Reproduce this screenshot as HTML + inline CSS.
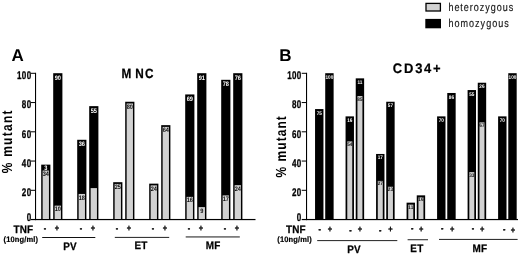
<!DOCTYPE html>
<html lang="en">
<head>
<meta charset="utf-8">
<title>JAK2 mutant fraction with TNF: MNC and CD34+</title>
<style>
html,body{margin:0;padding:0;background:#fff;}
body{width:520px;height:254px;overflow:hidden;}
svg{display:block;font-family:"Liberation Sans", sans-serif;}
text{white-space:pre;}
</style>
</head>
<body>
<svg width="520" height="254" viewBox="0 0 520 254" text-rendering="geometricPrecision">
<rect x="0" y="0" width="520" height="254" fill="#fff"/>
<rect x="426" y="3.4" width="14.4" height="7.6" fill="#d2d2d2" stroke="#000" stroke-width="1.3"/>
<rect x="425.3" y="18.9" width="15.7" height="9.4" fill="#000"/>
<text transform="translate(448.40,10.80) scale(0.8,1)" font-size="11.3" font-weight="normal" fill="#141414" text-anchor="start" stroke="#141414" stroke-width="0.15" stroke-linejoin="round" letter-spacing="1.2">heterozygous</text>
<text transform="translate(448.40,27.30) scale(0.8,1)" font-size="11.3" font-weight="normal" fill="#141414" text-anchor="start" stroke="#141414" stroke-width="0.15" stroke-linejoin="round" letter-spacing="1.27">homozygous</text>
<text transform="translate(11.60,60.60) scale(1.0,1)" font-size="17" font-weight="bold" fill="#000" text-anchor="start">A</text>
<rect x="35.00" y="72.80" width="1.08" height="147.35" fill="#000"/>
<rect x="30.70" y="218.95" width="224.80" height="1.2" fill="#000"/>
<rect x="30.70" y="189.80" width="4.8" height="1" fill="#000"/>
<rect x="30.70" y="160.55" width="4.8" height="1" fill="#000"/>
<rect x="30.70" y="131.30" width="4.8" height="1" fill="#000"/>
<rect x="30.70" y="102.05" width="4.8" height="1" fill="#000"/>
<rect x="30.70" y="72.80" width="4.8" height="1" fill="#000"/>
<text transform="translate(31.40,220.55) scale(0.72,1)" font-size="11.2" font-weight="bold" fill="#000" text-anchor="end" stroke="#000" stroke-width="0.3" stroke-linejoin="round" letter-spacing="0.4">0</text>
<text transform="translate(31.40,196.20) scale(0.72,1)" font-size="11.2" font-weight="bold" fill="#000" text-anchor="end" stroke="#000" stroke-width="0.3" stroke-linejoin="round" letter-spacing="0.4">20</text>
<text transform="translate(31.40,166.95) scale(0.72,1)" font-size="11.2" font-weight="bold" fill="#000" text-anchor="end" stroke="#000" stroke-width="0.3" stroke-linejoin="round" letter-spacing="0.4">40</text>
<text transform="translate(31.40,137.70) scale(0.72,1)" font-size="11.2" font-weight="bold" fill="#000" text-anchor="end" stroke="#000" stroke-width="0.3" stroke-linejoin="round" letter-spacing="0.4">60</text>
<text transform="translate(31.40,108.45) scale(0.72,1)" font-size="11.2" font-weight="bold" fill="#000" text-anchor="end" stroke="#000" stroke-width="0.3" stroke-linejoin="round" letter-spacing="0.4">80</text>
<text transform="translate(31.40,79.20) scale(0.72,1)" font-size="11.2" font-weight="bold" fill="#000" text-anchor="end" stroke="#000" stroke-width="0.3" stroke-linejoin="round" letter-spacing="0.4">100</text>
<text transform="translate(11.90,173.30) rotate(-90) scale(0.82,1)" font-size="14.6" font-weight="bold" fill="#000" text-anchor="start" letter-spacing="1.55">% mutant</text>
<text transform="translate(0.00,78.00) scale(0.88,1)" font-size="13.4" font-weight="bold" fill="#000" text-anchor="start" stroke="#000" stroke-width="0.25" stroke-linejoin="round" x="138.07 153.64 164.77">MNC</text>
<text transform="translate(13.40,233.00) scale(0.92,1)" font-size="10.8" font-weight="bold" fill="#000" text-anchor="start" stroke="#000" stroke-width="0.25" stroke-linejoin="round" letter-spacing="0.25">TNF</text>
<text transform="translate(3.50,241.70) scale(0.95,1)" font-size="7.9" font-weight="bold" fill="#000" text-anchor="start" stroke="#000" stroke-width="0.2" stroke-linejoin="round" letter-spacing="0.15">(10ng/ml)</text>
<rect x="41.20" y="164.64" width="9.20" height="54.91" fill="#000"/>
<rect x="42.65" y="170.55" width="6.30" height="48.45" fill="#d2d2d2"/>
<text transform="translate(45.80,169.87) scale(0.88,1)" font-size="6.4" font-weight="bold" fill="#fff" text-anchor="middle">3</text>
<text transform="translate(45.80,176.11) scale(0.88,1)" font-size="6.4" font-weight="bold" fill="#111" text-anchor="middle">34</text>
<text transform="translate(44.90,230.50) scale(0.8,1)" font-size="9" font-weight="bold" fill="#000" text-anchor="middle" stroke="#000" stroke-width="0.45" stroke-linejoin="round">-</text>
<rect x="53.20" y="73.20" width="9.20" height="146.35" fill="#000"/>
<rect x="54.65" y="205.65" width="6.30" height="13.35" fill="#d2d2d2"/>
<text transform="translate(57.80,79.68) scale(0.88,1)" font-size="6.4" font-weight="bold" fill="#fff" text-anchor="middle">90</text>
<text transform="translate(57.80,211.21) scale(0.88,1)" font-size="6.4" font-weight="bold" fill="#111" text-anchor="middle">10</text>
<text transform="translate(56.90,230.55) scale(0.85,1)" font-size="8.8" font-weight="bold" fill="#000" text-anchor="middle" stroke="#000" stroke-width="0.35" stroke-linejoin="round">+</text>
<rect x="77.20" y="139.78" width="9.20" height="79.77" fill="#000"/>
<rect x="78.65" y="193.95" width="6.30" height="25.05" fill="#d2d2d2"/>
<text transform="translate(81.80,146.26) scale(0.88,1)" font-size="6.4" font-weight="bold" fill="#fff" text-anchor="middle">36</text>
<text transform="translate(81.80,199.51) scale(0.88,1)" font-size="6.4" font-weight="bold" fill="#111" text-anchor="middle">18</text>
<text transform="translate(80.90,230.50) scale(0.8,1)" font-size="9" font-weight="bold" fill="#000" text-anchor="middle" stroke="#000" stroke-width="0.45" stroke-linejoin="round">-</text>
<rect x="89.20" y="106.14" width="9.20" height="113.41" fill="#000"/>
<rect x="90.65" y="188.10" width="6.30" height="30.90" fill="#d2d2d2"/>
<text transform="translate(93.80,112.62) scale(0.88,1)" font-size="6.4" font-weight="bold" fill="#fff" text-anchor="middle">55</text>
<text transform="translate(92.90,230.55) scale(0.85,1)" font-size="8.8" font-weight="bold" fill="#000" text-anchor="middle" stroke="#000" stroke-width="0.35" stroke-linejoin="round">+</text>
<rect x="113.20" y="182.19" width="9.20" height="37.36" fill="#000"/>
<rect x="114.65" y="183.94" width="6.30" height="35.06" fill="#d2d2d2"/>
<text transform="translate(117.80,189.27) scale(0.88,1)" font-size="6.4" font-weight="bold" fill="#111" text-anchor="middle">25</text>
<text transform="translate(116.90,230.50) scale(0.8,1)" font-size="9" font-weight="bold" fill="#000" text-anchor="middle" stroke="#000" stroke-width="0.45" stroke-linejoin="round">-</text>
<rect x="125.20" y="101.75" width="9.20" height="117.80" fill="#000"/>
<rect x="126.65" y="103.50" width="6.30" height="115.50" fill="#d2d2d2"/>
<text transform="translate(129.80,108.83) scale(0.88,1)" font-size="6.4" font-weight="bold" fill="#111" text-anchor="middle">80</text>
<text transform="translate(128.90,230.55) scale(0.85,1)" font-size="8.8" font-weight="bold" fill="#000" text-anchor="middle" stroke="#000" stroke-width="0.35" stroke-linejoin="round">+</text>
<rect x="149.20" y="183.65" width="9.20" height="35.90" fill="#000"/>
<rect x="150.65" y="185.40" width="6.30" height="33.60" fill="#d2d2d2"/>
<text transform="translate(153.80,190.73) scale(0.88,1)" font-size="6.4" font-weight="bold" fill="#111" text-anchor="middle">24</text>
<text transform="translate(152.90,230.50) scale(0.8,1)" font-size="9" font-weight="bold" fill="#000" text-anchor="middle" stroke="#000" stroke-width="0.45" stroke-linejoin="round">-</text>
<rect x="161.20" y="125.15" width="9.20" height="94.40" fill="#000"/>
<rect x="162.65" y="126.90" width="6.30" height="92.10" fill="#d2d2d2"/>
<text transform="translate(165.80,132.23) scale(0.88,1)" font-size="6.4" font-weight="bold" fill="#111" text-anchor="middle">64</text>
<text transform="translate(164.90,230.55) scale(0.85,1)" font-size="8.8" font-weight="bold" fill="#000" text-anchor="middle" stroke="#000" stroke-width="0.35" stroke-linejoin="round">+</text>
<rect x="185.20" y="94.44" width="9.20" height="125.11" fill="#000"/>
<rect x="186.65" y="196.88" width="6.30" height="22.12" fill="#d2d2d2"/>
<text transform="translate(189.80,100.92) scale(0.88,1)" font-size="6.4" font-weight="bold" fill="#fff" text-anchor="middle">69</text>
<text transform="translate(189.80,202.43) scale(0.88,1)" font-size="6.4" font-weight="bold" fill="#111" text-anchor="middle">16</text>
<text transform="translate(188.90,230.50) scale(0.8,1)" font-size="9" font-weight="bold" fill="#000" text-anchor="middle" stroke="#000" stroke-width="0.45" stroke-linejoin="round">-</text>
<rect x="197.20" y="73.20" width="9.20" height="146.35" fill="#000"/>
<rect x="198.65" y="207.11" width="6.30" height="11.89" fill="#d2d2d2"/>
<text transform="translate(201.80,79.68) scale(0.88,1)" font-size="6.4" font-weight="bold" fill="#fff" text-anchor="middle">91</text>
<text transform="translate(201.80,212.67) scale(0.88,1)" font-size="6.4" font-weight="bold" fill="#111" text-anchor="middle">9</text>
<text transform="translate(200.90,230.55) scale(0.85,1)" font-size="8.8" font-weight="bold" fill="#000" text-anchor="middle" stroke="#000" stroke-width="0.35" stroke-linejoin="round">+</text>
<rect x="221.20" y="79.81" width="9.20" height="139.74" fill="#000"/>
<rect x="222.65" y="195.41" width="6.30" height="23.59" fill="#d2d2d2"/>
<text transform="translate(225.80,86.29) scale(0.88,1)" font-size="6.4" font-weight="bold" fill="#fff" text-anchor="middle">78</text>
<text transform="translate(225.80,200.97) scale(0.88,1)" font-size="6.4" font-weight="bold" fill="#111" text-anchor="middle">17</text>
<text transform="translate(224.90,230.50) scale(0.8,1)" font-size="9" font-weight="bold" fill="#000" text-anchor="middle" stroke="#000" stroke-width="0.45" stroke-linejoin="round">-</text>
<rect x="233.20" y="73.20" width="9.20" height="146.35" fill="#000"/>
<rect x="234.65" y="185.18" width="6.30" height="33.82" fill="#d2d2d2"/>
<text transform="translate(237.80,79.68) scale(0.88,1)" font-size="6.4" font-weight="bold" fill="#fff" text-anchor="middle">76</text>
<text transform="translate(237.80,190.73) scale(0.88,1)" font-size="6.4" font-weight="bold" fill="#111" text-anchor="middle">24</text>
<text transform="translate(236.90,230.55) scale(0.85,1)" font-size="8.8" font-weight="bold" fill="#000" text-anchor="middle" stroke="#000" stroke-width="0.35" stroke-linejoin="round">+</text>
<rect x="42.2" y="237" width="53.1" height="1" fill="#111"/>
<rect x="114.8" y="236.9" width="54.4" height="1" fill="#222"/>
<rect x="185.7" y="236.1" width="54.1" height="1.6" fill="#6e6e6e"/>
<text transform="translate(63.20,250.30) scale(0.92,1)" font-size="10.8" font-weight="bold" fill="#000" text-anchor="start" stroke="#000" stroke-width="0.25" stroke-linejoin="round" letter-spacing="0.25">PV</text>
<text transform="translate(134.40,249.30) scale(0.92,1)" font-size="10.8" font-weight="bold" fill="#000" text-anchor="start" stroke="#000" stroke-width="0.25" stroke-linejoin="round" letter-spacing="0.25">ET</text>
<text transform="translate(205.80,248.70) scale(0.92,1)" font-size="10.8" font-weight="bold" fill="#000" text-anchor="start" stroke="#000" stroke-width="0.25" stroke-linejoin="round" letter-spacing="0.25">MF</text>
<text transform="translate(279.20,60.60) scale(1.0,1)" font-size="17" font-weight="bold" fill="#000" text-anchor="start">B</text>
<rect x="306.00" y="72.80" width="1.08" height="147.35" fill="#000"/>
<rect x="301.70" y="218.95" width="216.30" height="1.2" fill="#000"/>
<rect x="301.70" y="189.80" width="4.8" height="1" fill="#000"/>
<rect x="301.70" y="160.55" width="4.8" height="1" fill="#000"/>
<rect x="301.70" y="131.30" width="4.8" height="1" fill="#000"/>
<rect x="301.70" y="102.05" width="4.8" height="1" fill="#000"/>
<rect x="301.70" y="72.80" width="4.8" height="1" fill="#000"/>
<text transform="translate(301.60,220.55) scale(0.72,1)" font-size="11.2" font-weight="bold" fill="#000" text-anchor="end" stroke="#000" stroke-width="0.3" stroke-linejoin="round" letter-spacing="0.4">0</text>
<text transform="translate(301.60,196.20) scale(0.72,1)" font-size="11.2" font-weight="bold" fill="#000" text-anchor="end" stroke="#000" stroke-width="0.3" stroke-linejoin="round" letter-spacing="0.4">20</text>
<text transform="translate(301.60,166.95) scale(0.72,1)" font-size="11.2" font-weight="bold" fill="#000" text-anchor="end" stroke="#000" stroke-width="0.3" stroke-linejoin="round" letter-spacing="0.4">40</text>
<text transform="translate(301.60,137.70) scale(0.72,1)" font-size="11.2" font-weight="bold" fill="#000" text-anchor="end" stroke="#000" stroke-width="0.3" stroke-linejoin="round" letter-spacing="0.4">60</text>
<text transform="translate(301.60,108.45) scale(0.72,1)" font-size="11.2" font-weight="bold" fill="#000" text-anchor="end" stroke="#000" stroke-width="0.3" stroke-linejoin="round" letter-spacing="0.4">80</text>
<text transform="translate(301.60,79.20) scale(0.72,1)" font-size="11.2" font-weight="bold" fill="#000" text-anchor="end" stroke="#000" stroke-width="0.3" stroke-linejoin="round" letter-spacing="0.4">100</text>
<text transform="translate(285.80,177.50) rotate(-90) scale(0.82,1)" font-size="14.6" font-weight="bold" fill="#000" text-anchor="start" letter-spacing="1.3">% mutant</text>
<text transform="translate(0.00,73.30) scale(0.94,1)" font-size="13.8" font-weight="bold" fill="#000" text-anchor="start" stroke="#000" stroke-width="0.2" stroke-linejoin="round" x="417.87 429.79 441.70 451.06 460.64">CD34+</text>
<text transform="translate(285.90,233.00) scale(0.92,1)" font-size="10.8" font-weight="bold" fill="#000" text-anchor="start" stroke="#000" stroke-width="0.25" stroke-linejoin="round" letter-spacing="0.25">TNF</text>
<text transform="translate(277.30,241.70) scale(0.95,1)" font-size="7.9" font-weight="bold" fill="#000" text-anchor="start" stroke="#000" stroke-width="0.2" stroke-linejoin="round" letter-spacing="0.15">(10ng/ml)</text>
<rect x="315.05" y="109.06" width="8.40" height="110.49" fill="#000"/>
<text transform="translate(319.25,114.59) scale(0.9,1)" font-size="5.2" font-weight="bold" fill="#fff" text-anchor="middle">75</text>
<text transform="translate(319.70,232.30) scale(0.8,1)" font-size="9" font-weight="bold" fill="#000" text-anchor="middle" stroke="#000" stroke-width="0.45" stroke-linejoin="round">-</text>
<rect x="325.22" y="73.20" width="8.40" height="146.35" fill="#000"/>
<text transform="translate(329.42,78.72) scale(0.9,1)" font-size="5.2" font-weight="bold" fill="#fff" text-anchor="middle">100</text>
<text transform="translate(330.00,232.20) scale(0.85,1)" font-size="8.8" font-weight="bold" fill="#000" text-anchor="middle" stroke="#000" stroke-width="0.35" stroke-linejoin="round">+</text>
<rect x="345.56" y="116.38" width="8.40" height="103.17" fill="#000"/>
<rect x="347.26" y="141.43" width="5.00" height="77.57" fill="#d2d2d2"/>
<text transform="translate(349.76,121.90) scale(0.9,1)" font-size="5.2" font-weight="bold" fill="#fff" text-anchor="middle">16</text>
<text transform="translate(349.76,145.90) scale(0.9,1)" font-size="5.2" font-weight="bold" fill="#111" text-anchor="middle">54</text>
<text transform="translate(350.40,232.50) scale(0.8,1)" font-size="9" font-weight="bold" fill="#000" text-anchor="middle" stroke="#000" stroke-width="0.45" stroke-linejoin="round">-</text>
<rect x="355.73" y="78.35" width="8.40" height="141.20" fill="#000"/>
<rect x="357.43" y="96.09" width="5.00" height="122.91" fill="#d2d2d2"/>
<text transform="translate(359.93,83.87) scale(0.9,1)" font-size="5.2" font-weight="bold" fill="#fff" text-anchor="middle">11</text>
<text transform="translate(359.93,100.56) scale(0.9,1)" font-size="5.2" font-weight="bold" fill="#111" text-anchor="middle">85</text>
<text transform="translate(360.00,232.20) scale(0.85,1)" font-size="8.8" font-weight="bold" fill="#000" text-anchor="middle" stroke="#000" stroke-width="0.35" stroke-linejoin="round">+</text>
<rect x="376.07" y="153.96" width="8.40" height="65.59" fill="#000"/>
<rect x="377.77" y="180.91" width="5.00" height="38.09" fill="#d2d2d2"/>
<text transform="translate(380.27,159.48) scale(0.9,1)" font-size="5.2" font-weight="bold" fill="#fff" text-anchor="middle">17</text>
<text transform="translate(380.27,185.39) scale(0.9,1)" font-size="5.2" font-weight="bold" fill="#111" text-anchor="middle">27</text>
<text transform="translate(380.30,232.50) scale(0.8,1)" font-size="9" font-weight="bold" fill="#000" text-anchor="middle" stroke="#000" stroke-width="0.45" stroke-linejoin="round">-</text>
<rect x="386.24" y="101.75" width="8.40" height="117.80" fill="#000"/>
<rect x="387.94" y="186.76" width="5.00" height="32.24" fill="#d2d2d2"/>
<text transform="translate(390.44,107.27) scale(0.9,1)" font-size="5.2" font-weight="bold" fill="#fff" text-anchor="middle">57</text>
<text transform="translate(390.44,191.24) scale(0.9,1)" font-size="5.2" font-weight="bold" fill="#111" text-anchor="middle">23</text>
<text transform="translate(390.40,232.20) scale(0.85,1)" font-size="8.8" font-weight="bold" fill="#000" text-anchor="middle" stroke="#000" stroke-width="0.35" stroke-linejoin="round">+</text>
<rect x="406.58" y="202.66" width="8.40" height="16.89" fill="#000"/>
<rect x="408.28" y="204.66" width="5.00" height="14.34" fill="#d2d2d2"/>
<text transform="translate(410.78,208.79) scale(0.9,1)" font-size="5.2" font-weight="bold" fill="#111" text-anchor="middle">11</text>
<text transform="translate(412.30,231.20) scale(0.8,1)" font-size="9" font-weight="bold" fill="#000" text-anchor="middle" stroke="#000" stroke-width="0.45" stroke-linejoin="round">-</text>
<rect x="416.75" y="195.35" width="8.40" height="24.20" fill="#000"/>
<rect x="418.45" y="197.35" width="5.00" height="21.65" fill="#d2d2d2"/>
<text transform="translate(420.95,201.47) scale(0.9,1)" font-size="5.2" font-weight="bold" fill="#111" text-anchor="middle">16</text>
<text transform="translate(421.20,231.50) scale(0.85,1)" font-size="8.8" font-weight="bold" fill="#000" text-anchor="middle" stroke="#000" stroke-width="0.35" stroke-linejoin="round">+</text>
<rect x="437.09" y="116.38" width="8.40" height="103.17" fill="#000"/>
<text transform="translate(441.29,121.90) scale(0.9,1)" font-size="5.2" font-weight="bold" fill="#fff" text-anchor="middle">70</text>
<text transform="translate(442.20,231.20) scale(0.8,1)" font-size="9" font-weight="bold" fill="#000" text-anchor="middle" stroke="#000" stroke-width="0.45" stroke-linejoin="round">-</text>
<rect x="447.26" y="92.98" width="8.40" height="126.57" fill="#000"/>
<text transform="translate(451.46,98.50) scale(0.9,1)" font-size="5.2" font-weight="bold" fill="#fff" text-anchor="middle">86</text>
<text transform="translate(452.30,231.50) scale(0.85,1)" font-size="8.8" font-weight="bold" fill="#000" text-anchor="middle" stroke="#000" stroke-width="0.35" stroke-linejoin="round">+</text>
<rect x="467.60" y="90.05" width="8.40" height="129.50" fill="#000"/>
<rect x="469.30" y="172.14" width="5.00" height="46.86" fill="#d2d2d2"/>
<text transform="translate(471.80,95.57) scale(0.9,1)" font-size="5.2" font-weight="bold" fill="#fff" text-anchor="middle">55</text>
<text transform="translate(471.80,176.61) scale(0.9,1)" font-size="5.2" font-weight="bold" fill="#111" text-anchor="middle">33</text>
<text transform="translate(472.90,231.20) scale(0.8,1)" font-size="9" font-weight="bold" fill="#000" text-anchor="middle" stroke="#000" stroke-width="0.45" stroke-linejoin="round">-</text>
<rect x="477.77" y="82.74" width="8.40" height="136.81" fill="#000"/>
<rect x="479.47" y="122.41" width="5.00" height="96.59" fill="#d2d2d2"/>
<text transform="translate(481.97,88.26) scale(0.9,1)" font-size="5.2" font-weight="bold" fill="#fff" text-anchor="middle">26</text>
<text transform="translate(481.97,126.89) scale(0.9,1)" font-size="5.2" font-weight="bold" fill="#111" text-anchor="middle">67</text>
<text transform="translate(482.30,231.80) scale(0.85,1)" font-size="8.8" font-weight="bold" fill="#000" text-anchor="middle" stroke="#000" stroke-width="0.35" stroke-linejoin="round">+</text>
<rect x="498.11" y="116.38" width="8.40" height="103.17" fill="#000"/>
<text transform="translate(502.31,121.90) scale(0.9,1)" font-size="5.2" font-weight="bold" fill="#fff" text-anchor="middle">70</text>
<text transform="translate(504.10,232.30) scale(0.8,1)" font-size="9" font-weight="bold" fill="#000" text-anchor="middle" stroke="#000" stroke-width="0.45" stroke-linejoin="round">-</text>
<rect x="508.28" y="73.20" width="8.40" height="146.35" fill="#000"/>
<text transform="translate(512.48,78.72) scale(0.9,1)" font-size="5.2" font-weight="bold" fill="#fff" text-anchor="middle">100</text>
<text transform="translate(512.90,232.50) scale(0.85,1)" font-size="8.8" font-weight="bold" fill="#000" text-anchor="middle" stroke="#000" stroke-width="0.35" stroke-linejoin="round">+</text>
<rect x="317.2" y="240.1" width="80.1" height="1" fill="#222"/>
<rect x="407.6" y="239" width="20.4" height="1.3" fill="#555"/>
<rect x="439" y="238.9" width="78.6" height="1.1" fill="#333"/>
<text transform="translate(347.20,252.50) scale(0.92,1)" font-size="10.8" font-weight="bold" fill="#000" text-anchor="start" stroke="#000" stroke-width="0.25" stroke-linejoin="round" letter-spacing="0.25">PV</text>
<text transform="translate(410.30,252.00) scale(0.92,1)" font-size="10.8" font-weight="bold" fill="#000" text-anchor="start" stroke="#000" stroke-width="0.25" stroke-linejoin="round" letter-spacing="0.25">ET</text>
<text transform="translate(472.50,252.00) scale(0.92,1)" font-size="10.8" font-weight="bold" fill="#000" text-anchor="start" stroke="#000" stroke-width="0.25" stroke-linejoin="round" letter-spacing="0.25">MF</text>
</svg>
</body>
</html>
